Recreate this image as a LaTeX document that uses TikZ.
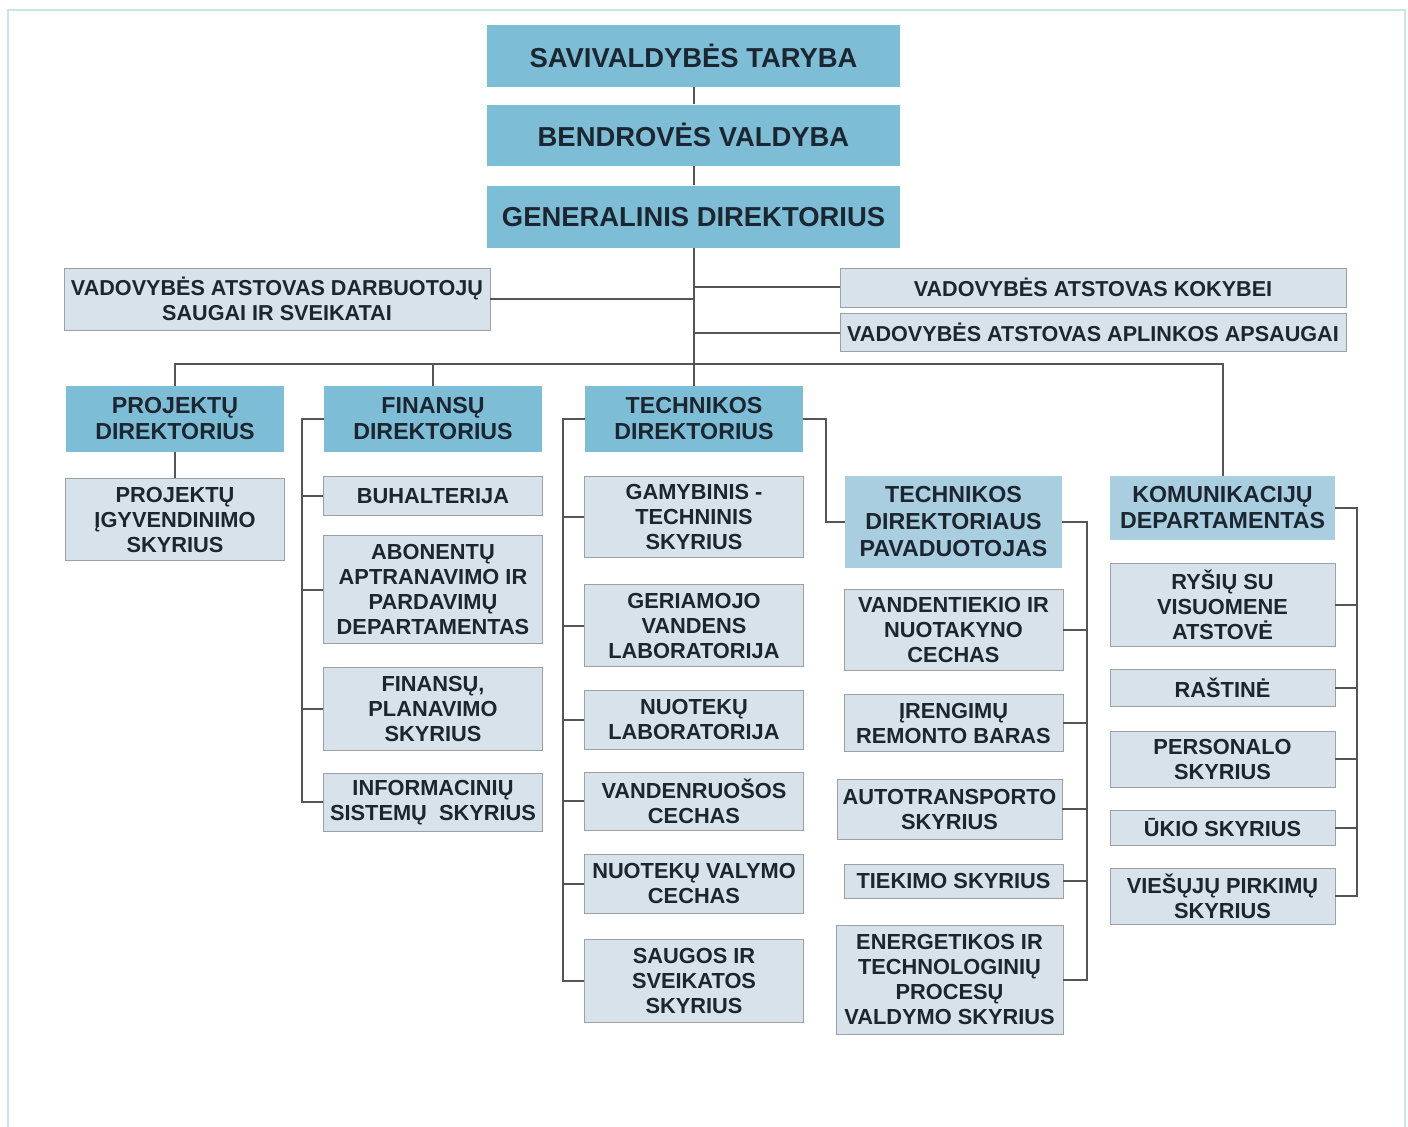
\documentclass[tikz,border=0pt]{standalone}
\usepackage{fontspec}
\setmainfont{Liberation Sans}
\usepackage{xcolor}
\usepackage{tikz}
\usetikzlibrary{positioning}
\definecolor{boardblue}{HTML}{7DBED6}
\definecolor{deputyblue}{HTML}{A9CEE0}
\definecolor{deptfill}{HTML}{D8E2EA}
\definecolor{deptedge}{HTML}{9AA0A6}
\definecolor{linegray}{HTML}{555555}
\definecolor{textdark}{HTML}{1C2630}
\definecolor{framecol}{HTML}{C8E6E6}
\tikzset{
  board/.style    = {fill=boardblue, inner sep=0pt, align=center, text=textdark,
                     minimum width=206.5pt, font=\bfseries\fontsize{13.7}{16}\selectfont},
  director/.style = {fill=boardblue, inner sep=0pt, align=center, text=textdark,
                     minimum width=109pt, minimum height=33pt,
                     font=\bfseries\fontsize{11.6}{13}\selectfont},
  deputy/.style   = {director, fill=deputyblue},
  dept/.style     = {draw=deptedge, fill=deptfill, inner sep=0pt, align=center, text=textdark,
                     minimum width=109.5pt, font=\bfseries\fontsize{10.9}{12.5}\selectfont},
  staff/.style    = {dept, font=\bfseries\fontsize{10.8}{12.5}\selectfont},
  conn/.style     = {draw=linegray, line width=1pt},
  edgeframe/.style = {draw=framecol, line width=0.8pt},
}
\begin{document}
\begin{tikzpicture}[x=0.5pt, y=-0.5pt]
  \useasboundingbox (0,0) rectangle (1408,1127);
  \draw[edgeframe] (8,1127) -- (8,10) -- (1405,10) -- (1405,1127);

  \node[board, minimum height=31pt] (taryba) at (693.5,56) {SAVIVALDYBĖS TARYBA};
  \node[board, minimum height=30.5pt, below=8.5pt of taryba] (valdyba) {BENDROVĖS VALDYBA};
  \node[board, minimum height=31pt, below=9.5pt of valdyba] (gendir) {GENERALINIS DIREKTORIUS};

  \node[staff, minimum width=213pt, minimum height=31pt] (atstSveik) at (277,299)
       {VADOVYBĖS ATSTOVAS DARBUOTOJŲ\\SAUGAI IR SVEIKATAI};
  \node[staff, minimum width=253pt, minimum height=19.5pt] (atstKok) at (1093,287.5)
       {VADOVYBĖS ATSTOVAS KOKYBEI};
  \node[staff, minimum width=253pt, minimum height=19pt, below=3pt of atstKok] (atstAplink)
       {VADOVYBĖS ATSTOVAS APLINKOS APSAUGAI};

  \node[director] (projDir) at (175,419) {PROJEKTŲ\\DIREKTORIUS};
  \node[director] (finDir)  at (433,419) {FINANSŲ\\DIREKTORIUS};
  \node[director] (techDir) at (694,419) {TECHNIKOS\\DIREKTORIUS};
  \node[deputy, minimum width=108.5pt, minimum height=46pt, font=\bfseries\fontsize{11.6}{13.5}\selectfont]
       (deputy) at (953.5,522) {TECHNIKOS\\DIREKTORIAUS\\PAVADUOTOJAS};
  \node[deputy, minimum width=112.5pt, minimum height=32pt] (komDep) at (1222.5,508)
       {KOMUNIKACIJŲ\\DEPARTAMENTAS};

  \node[dept, minimum height=41pt, below=13pt of projDir] (projSkyr) {PROJEKTŲ\\ĮGYVENDINIMO\\SKYRIUS};

  \node[dept, minimum height=19.5pt, below=12pt of finDir] (buhalt) {BUHALTERIJA};
  \node[dept, minimum height=54pt, below=9.5pt of buhalt] (abonent)
       {ABONENTŲ\\APTRANAVIMO IR\\PARDAVIMŲ\\DEPARTAMENTAS};
  \node[dept, minimum height=41.5pt, below=11.5pt of abonent] (finPlan) {FINANSŲ,\\PLANAVIMO\\SKYRIUS};
  \node[dept, minimum height=29pt, below=11pt of finPlan] (infSist) {INFORMACINIŲ\\SISTEMŲ~ SKYRIUS};

  \node[dept, minimum height=40.5pt, below=12pt of techDir] (gamyb) {GAMYBINIS -\\TECHNINIS\\SKYRIUS};
  \node[dept, minimum height=41pt, below=13pt of gamyb] (geriam) {GERIAMOJO\\VANDENS\\LABORATORIJA};
  \node[dept, minimum height=29.5pt, below=11.5pt of geriam] (nuotLab) {NUOTEKŲ\\LABORATORIJA};
  \node[dept, minimum height=29pt, below=11pt of nuotLab] (vandRuos) {VANDENRUOŠOS\\CECHAS};
  \node[dept, minimum height=29.5pt, below=11.5pt of vandRuos] (nuotVal) {NUOTEKŲ VALYMO\\CECHAS};
  \node[dept, minimum height=41.5pt, below=13pt of nuotVal] (saugos) {SAUGOS IR\\SVEIKATOS\\SKYRIUS};

  \node[dept, minimum height=40.5pt, below=10.5pt of deputy] (vandTiek) {VANDENTIEKIO IR\\NUOTAKYNO\\CECHAS};
  \node[dept, minimum height=28.5pt, below=11.5pt of vandTiek] (irengim) {ĮRENGIMŲ\\REMONTO BARAS};
  \node[dept, minimum width=112.5pt, minimum height=30pt, below=13.5pt of irengim, xshift=-2pt] (autotr)
       {AUTOTRANSPORTO\\SKYRIUS};
  \node[dept, minimum height=17pt, below=12pt of autotr, xshift=2pt] (tiekim) {TIEKIMO SKYRIUS};
  \node[dept, minimum width=113.5pt, minimum height=54.5pt, below=13pt of tiekim, xshift=-2pt] (energ)
       {ENERGETIKOS IR\\TECHNOLOGINIŲ\\PROCESŲ\\VALDYMO SKYRIUS};

  \node[dept, minimum width=112.5pt, minimum height=41.5pt, below=11.5pt of komDep] (rysiu)
       {RYŠIŲ SU\\VISUOMENE\\ATSTOVĖ};
  \node[dept, minimum width=112.5pt, minimum height=18.5pt, below=11pt of rysiu] (rastine) {RAŠTINĖ};
  \node[dept, minimum width=112.5pt, minimum height=28pt, below=12pt of rastine] (personal) {PERSONALO\\SKYRIUS};
  \node[dept, minimum width=112.5pt, minimum height=17.5pt, below=11pt of personal] (ukio) {ŪKIO SKYRIUS};
  \node[dept, minimum width=112.5pt, minimum height=28pt, below=11pt of ukio] (viesuju) {VIEŠŲJŲ PIRKIMŲ\\SKYRIUS};

  \coordinate (busR) at (1222.5,364);
  \coordinate (finBus) at (302,0);
  \coordinate (techBus) at (563,0);
  \coordinate (depBus) at (1087,0);
  \coordinate (komBus) at (1357,0);

  \draw[conn] (taryba) -- (valdyba);
  \draw[conn] (valdyba) -- (gendir);
  \draw[conn] (gendir.south) -- (gendir.south |- techDir.north);
  \draw[conn] (atstSveik.east) -- (atstSveik.east -| gendir.south);
  \draw[conn] (atstKok.west) -- (atstKok.west -| gendir.south);
  \draw[conn] (atstAplink.west) -- (atstAplink.west -| gendir.south);
  \draw[conn] (projDir.north) |- (busR) -- (komDep.north);
  \draw[conn] (finDir.north) -- (finDir.north |- busR);
  \draw[conn] (projDir) -- (projSkyr);

  \draw[conn] (finDir.west) -- (finDir.west -| finBus) |- (infSist.west);
  \foreach \u in {buhalt,abonent,finPlan}
    \draw[conn] (\u.west) -- (\u.west -| finBus);

  \draw[conn] (techDir.west) -- (techDir.west -| techBus) |- (saugos.west);
  \foreach \u in {gamyb,geriam,nuotLab,vandRuos,nuotVal}
    \draw[conn] (\u.west) -- (\u.west -| techBus);
  \draw[conn] (techDir.east) -- ++(11.5pt,0) |- (deputy.west);

  \draw[conn] (deputy.east) -- (deputy.east -| depBus) |- (energ.east);
  \foreach \u in {vandTiek,irengim,autotr,tiekim}
    \draw[conn] (\u.east) -- (\u.east -| depBus);

  \draw[conn] (komDep.east) -- (komDep.east -| komBus) |- (viesuju.east);
  \foreach \u in {rysiu,rastine,personal,ukio}
    \draw[conn] (\u.east) -- (\u.east -| komBus);
\end{tikzpicture}
\end{document}
